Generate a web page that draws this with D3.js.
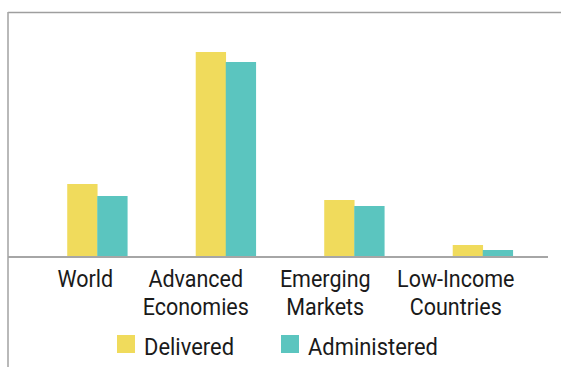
<!DOCTYPE html>
<html>
<head>
<meta charset="utf-8">
<script src="https://cdn.jsdelivr.net/npm/d3@7"></script>
<style>
  html, body { margin: 0; padding: 0; background: #fff; }
  svg { display: block; font-family: Roboto, "Noto Sans", sans-serif; }
</style>
</head>
<body>
<svg id="chart" width="561" height="367"></svg>
<script>
// Vaccine doses by country group (relative units)
const categories = ["World", "Advanced Economies", "Emerging Markets", "Low-Income Countries"];
const labelLines = [["World"], ["Advanced", "Economies"], ["Emerging", "Markets"], ["Low-Income", "Countries"]];
const seriesNames = ["Delivered", "Administered"];
const delivered = [72, 204, 56, 11];
const administered = [60, 194, 50, 6];
const colors = ["#F0DB5C", "#5BC5BF"];

const svg = d3.select("#chart");
const W = 561, H = 367;
const baseY = 256;
const fontSize = 21.5;
const stretch = 1.09;   // text is drawn slightly tall

// frame lines at top and left
svg.append("line").attr("x1", 8).attr("x2", W).attr("y1", 12.5).attr("y2", 12.5)
  .attr("stroke", "#9e9e9e").attr("stroke-width", 1.6);
svg.append("line").attr("x1", 8).attr("x2", 8).attr("y1", 12).attr("y2", H)
  .attr("stroke", "#a8a8a8").attr("stroke-width", 1.6);

const x0 = d3.scaleBand().domain(categories).range([33, 547]).padding(0);
const x1 = d3.scaleBand().domain(seriesNames).range([0, x0.bandwidth()])
  .paddingInner(0).paddingOuter(1.14);
const y = d3.scaleLinear().domain([0, 244]).range([baseY, 12]);

const data = categories.map((c, i) => ({ cat: c, values: [delivered[i], administered[i]] }));

const groups = svg.append("g").selectAll("g").data(data).join("g")
  .attr("transform", d => `translate(${x0(d.cat)},0)`);
groups.selectAll("rect").data(d => d.values.map((v, j) => ({ s: seriesNames[j], v, j })))
  .join("rect")
  .attr("x", d => x1(d.s))
  .attr("width", x1.bandwidth() + 0.3)
  .attr("y", d => y(d.v))
  .attr("height", d => y(0) - y(d.v))
  .attr("fill", d => colors[d.j]);

// baseline
svg.append("line").attr("x1", 8).attr("x2", 548).attr("y1", baseY + 1).attr("y2", baseY + 1)
  .attr("stroke", "#a6a6a6").attr("stroke-width", 2.2);

// category labels (two lines each)
const labelShift = { "World": -12, "Advanced Economies": -30, "Emerging Markets": -29, "Low-Income Countries": -27 };
const lab = svg.append("g").selectAll("text").data(categories).join("text")
  .attr("transform", d => `translate(${x0(d) + x0.bandwidth() / 2 + labelShift[d]},287) scale(1,${stretch})`)
  .attr("text-anchor", "middle")
  .attr("font-size", fontSize)
  .attr("fill", "#1a1a1a");
lab.each(function(d, i) {
  const t = d3.select(this);
  labelLines[i].forEach((ln, k) => {
    t.append("tspan").attr("x", 0).attr("dy", k === 0 ? 0 : 28.5 / stretch).text(ln);
  });
});

// legend
const legendX = [117, 281];
const leg = svg.append("g").selectAll("g").data(seriesNames).join("g")
  .attr("transform", (d, i) => `translate(${legendX[i]},335)`);
leg.append("rect").attr("width", 18).attr("height", 18).attr("fill", (d, i) => colors[i]);
leg.append("text").attr("transform", `translate(27,20) scale(1.02,${stretch})`)
  .attr("font-size", fontSize)
  .attr("fill", "#1a1a1a").text(d => d);
</script>
</body>
</html>
